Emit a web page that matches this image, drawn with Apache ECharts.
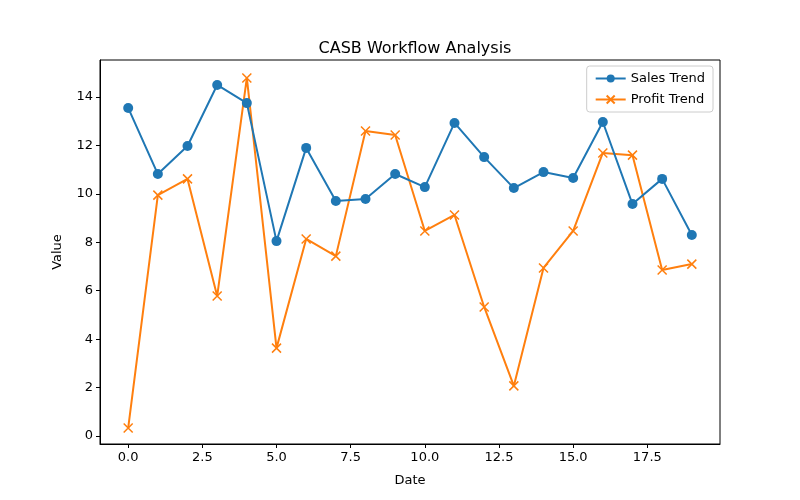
<!DOCTYPE html>
<html>
<head>
<meta charset="utf-8">
<script src="https://cdn.jsdelivr.net/npm/echarts@6/dist/echarts.min.js"></script>
<style>
  html, body { margin: 0; padding: 0; background: #fff; }
  #chart { width: 800px; height: 500px; }
</style>
</head>
<body>
<div id="chart"></div>
<script>
// data
var dates = [0, 1, 2, 3, 4, 5, 6, 7, 8, 9, 10, 11, 12, 13, 14, 15, 16, 17, 18, 19];
var sales = [13.55, 10.82, 11.98, 14.5, 13.75, 8.05, 11.9, 9.71, 9.79, 10.82,
             10.28, 12.93, 11.52, 10.24, 10.9, 10.66, 12.97, 9.58, 10.62, 8.3];
var profit = [0.33, 9.95, 10.62, 5.78, 14.79, 3.63, 8.14, 7.43, 12.6, 12.43,
              8.47, 9.13, 5.33, 2.07, 6.94, 8.47, 11.69, 11.6, 6.86, 7.1];
var xTicks = [0, 2.5, 5, 7.5, 10, 12.5, 15, 17.5];
var yTicks = [0, 2, 4, 6, 8, 10, 12, 14];

var font = "DejaVu Sans";
var myChart = echarts.init(document.getElementById("chart"));

function pairs(vals) {
  return dates.map(function (d, i) { return [d, vals[i]]; });
}

var option = {
  animation: false,
  textStyle: { fontFamily: font },
  title: {
    text: "CASB Workflow Analysis",
    left: 410,
    top: 36,
    textAlign: "center",
    textStyle: { fontFamily: font, fontSize: 16, fontWeight: "normal", color: "#000" },
  },
  legend: {
    right: 87,
    top: 66,
    orient: "vertical",
    itemWidth: 30,
    itemHeight: 10,
    itemGap: 8,
    padding: [6, 8, 6, 8],
    borderColor: "#ccc",
    borderWidth: 1,
    borderRadius: 3,
    textStyle: { fontFamily: font, fontSize: 13, color: "#000" },
    data: ["Sales Trend", "Profit Trend"],
  },
  grid: {
    left: 100,
    right: 80,
    top: 60,
    bottom: 56,
    show: true,
    borderColor: "#000",
    borderWidth: 1,
  },
  xAxis: {
    type: "value",
    min: -0.95,
    max: 19.95,
    name: "Date",
    nameLocation: "middle",
    nameGap: 30,
    nameTextStyle: { fontFamily: font, fontSize: 13, color: "#000" },
    splitLine: { show: false },
    axisLine: { onZero: false, lineStyle: { color: "#000", width: 1 } },
    axisTick: { customValues: xTicks, length: 4, lineStyle: { color: "#000" } },
    axisLabel: {
      customValues: xTicks,
      color: "#000",
      fontSize: 13,
      margin: 7,
      formatter: function (v) { return v.toFixed(1); },
    },
  },
  yAxis: {
    type: "value",
    min: -0.33,
    max: 15.53,
    name: "Value",
    nameLocation: "middle",
    nameGap: 36,
    nameTextStyle: { fontFamily: font, fontSize: 13, color: "#000" },
    splitLine: { show: false },
    axisLine: { show: true, onZero: false, lineStyle: { color: "#000", width: 1 } },
    axisTick: { show: true, customValues: yTicks, length: 4, lineStyle: { color: "#000" } },
    axisLabel: { customValues: yTicks, color: "#000", fontSize: 13, margin: 7 },
  },
  series: [
    {
      name: "Sales Trend",
      type: "line",
      data: pairs(sales),
      color: "#1f77b4",
      symbol: "circle",
      symbolSize: 10,
      lineStyle: { width: 2 },
      itemStyle: { color: "#1f77b4" },
      z: 3,
    },
    {
      name: "Profit Trend",
      type: "line",
      data: pairs(profit),
      color: "#ff7f0e",
      symbol: "path://M0,0L10,10M10,0L0,10",
      symbolSize: 9,
      lineStyle: { width: 2 },
      itemStyle: { color: "#ff7f0e", borderColor: "#ff7f0e", borderWidth: 1.5 },
      z: 2,
    },
  ],
};

myChart.setOption(option);
</script>
</body>
</html>
